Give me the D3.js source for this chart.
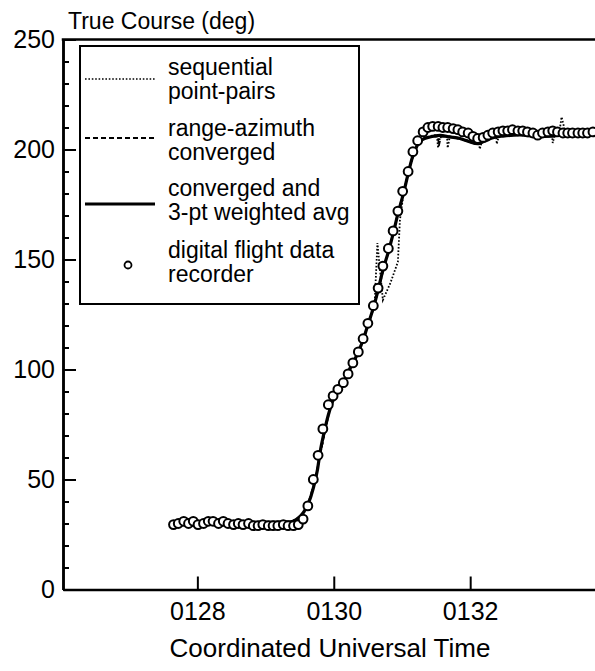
<!DOCTYPE html>
<html lang="en">
<head>
<meta charset="UTF-8">
<title>True Course vs UTC</title>
<script src="https://d3js.org/d3.v7.min.js"></script>
<style>
  body { margin: 0; background: #fff; }
  text { font-family: "Liberation Sans", Arial, Helvetica, sans-serif; fill: #000; }
</style>
</head>
<body>
<script>
// time in minutes after 01:00 UTC, heading in degrees
const xTicks = [128, 130, 132];
const xTickLabels = ["0128", "0130", "0132"];
const yMajor = [0, 50, 100, 150, 200, 250];
const yMinor = [10, 20, 30, 40, 60, 70, 80, 90, 110, 120, 130, 140, 160, 170, 180, 190, 210, 220, 230, 240];

const legendLabels = [
  ["sequential", "point-pairs"],
  ["range-azimuth", "converged"],
  ["converged and", "3-pt weighted avg"],
  ["digital flight data", "recorder"]
];

// digital flight data recorder samples
const dfdrTime = [127.65, 127.72, 127.80, 127.87, 127.94, 128.01, 128.09, 128.16, 128.23, 128.31,
  128.38, 128.45, 128.53, 128.60, 128.67, 128.75, 128.82, 128.89, 128.96, 129.04,
  129.11, 129.18, 129.26, 129.33, 129.41, 129.48, 129.55, 129.62, 129.70, 129.77,
  129.84, 129.92, 129.99, 130.06, 130.14, 130.21, 130.28, 130.36, 130.43, 130.50,
  130.58, 130.65, 130.72, 130.80, 130.87, 130.94, 131.01, 131.09, 131.16, 131.23,
  131.31, 131.38, 131.45, 131.53, 131.60, 131.67, 131.75, 131.82, 131.89, 131.97,
  132.04, 132.11, 132.19, 132.26, 132.33, 132.41, 132.48, 132.55, 132.62, 132.70,
  132.77, 132.84, 132.92, 132.99, 133.06, 133.14, 133.21, 133.28, 133.36, 133.43,
  133.50, 133.58, 133.65, 133.72, 133.80];
const dfdrDeg = [29.5, 30, 31, 30, 31, 29.5, 30, 31, 31, 30,
  31, 30, 29.5, 30, 29.5, 30, 29, 29, 29.5, 29,
  29, 29, 29.5, 29, 29, 29.5, 32, 38, 50, 61,
  73, 84, 88, 91, 94, 98, 103, 108, 114, 121,
  129, 137, 147, 155, 163, 172, 181, 190, 199, 204,
  208, 210, 210.5, 210.5, 210, 210, 209.5, 209, 208, 207.5,
  206, 205, 205.5, 206.5, 207.5, 208, 208.5, 208.5, 209, 208.5,
  208.5, 208, 207.5, 206.5, 207.5, 208, 208.5, 208, 207.5, 207.5,
  207.5, 207.5, 207.5, 207.5, 208];

// converged and 3-pt weighted avg
const smoothed = [[128.51, 30.7], [128.92, 30.5], [129.36, 30.7], [129.46, 32.0], [129.55, 34.8],
  [129.63, 39.3], [129.70, 46.1], [129.76, 54.3], [129.80, 62.5], [129.86, 71.6], [129.92, 79.3],
  [129.98, 85.2], [130.05, 89.8], [130.14, 93.9], [130.24, 100.7], [130.34, 106.6], [130.43, 113.4],
  [130.50, 120.2], [130.58, 128.0], [130.65, 136.1], [130.72, 145.2], [130.80, 153.4], [130.87, 161.6],
  [130.94, 170.7], [131.02, 179.8], [131.09, 188.9], [131.15, 196.1], [131.22, 201.6], [131.29, 204.3],
  [131.41, 205.7], [131.56, 206.4], [131.70, 205.7], [131.85, 205.0], [132.00, 203.4], [132.11, 202.7],
  [132.22, 203.9], [132.32, 205.2], [132.48, 206.1], [132.73, 206.6], [132.98, 205.9], [133.21, 206.1],
  [133.42, 207.3], [133.61, 207.5], [133.83, 208.0]];

// range-azimuth converged
const rangeAz = [[128.51, 30.2], [128.92, 30.7], [129.36, 30.2], [129.48, 32.0], [129.57, 35.2],
  [129.64, 40.7], [129.71, 48.0], [129.77, 56.6], [129.83, 65.7], [129.89, 75.2], [129.95, 82.9],
  [130.02, 88.0], [130.11, 92.0], [130.21, 97.5], [130.33, 106.1], [130.42, 112.0], [130.50, 119.8],
  [130.58, 127.5], [130.65, 135.7], [130.72, 144.3], [130.80, 153.4], [130.87, 162.1], [130.94, 171.1],
  [131.02, 180.2], [131.09, 189.3], [131.15, 196.6], [131.22, 202.0], [131.29, 204.8], [131.41, 206.1],
  [131.53, 205.7], [131.54, 201.6], [131.57, 205.7], [131.70, 206.1], [131.85, 204.8], [132.00, 203.4],
  [132.11, 202.0], [132.22, 203.9], [132.32, 205.2], [132.48, 206.6], [132.73, 207.0], [132.98, 205.9],
  [133.21, 206.6], [133.34, 208.4], [133.46, 207.5], [133.61, 208.0], [133.83, 208.4]];

// sequential point-pairs
const pointPairs = [[128.51, 30.2], [128.92, 30.2], [129.36, 30.7], [129.51, 33.0], [129.63, 38.4],
  [129.70, 46.1], [129.77, 56.1], [129.83, 65.7], [129.89, 74.8], [129.95, 82.5], [130.02, 88.0],
  [130.12, 93.9], [130.24, 100.7], [130.36, 107.9], [130.46, 116.6], [130.56, 126.1], [130.60, 130.7],
  [130.64, 157.5], [130.72, 131.6], [130.83, 139.3], [130.94, 148.9], [130.97, 168.0], [131.03, 181.6],
  [131.12, 192.5], [131.22, 201.6], [131.29, 204.3], [131.41, 206.1], [131.51, 206.6], [131.53, 200.7],
  [131.56, 206.1], [131.66, 206.1], [131.67, 200.7], [131.70, 205.7], [131.85, 204.8], [132.00, 203.9],
  [132.13, 203.4], [132.14, 200.2], [132.17, 203.4], [132.29, 205.2], [132.38, 206.1], [132.39, 202.5],
  [132.42, 206.1], [132.58, 206.6], [132.73, 207.0], [132.98, 205.9], [133.20, 206.6], [133.21, 203.0],
  [133.24, 206.6], [133.31, 208.4], [133.34, 214.8], [133.39, 208.4], [133.53, 207.5], [133.83, 208.4]];

const w = 595;
const h = 671;
const plotLeft = 63, plotRight = 595, plotTop = 39.5, plotBottom = 589.5;

const x = d3.scaleLinear().domain([126.03, 133.83]).range([plotLeft, plotRight]);
const y = d3.scaleLinear().domain([0, 250]).range([plotBottom, plotTop]);

const svg = d3.select("body").append("svg")
  .attr("width", w)
  .attr("height", h);

// data lines
const line = d3.line().x(d => x(d[0])).y(d => y(d[1]));
const smoothLine = d3.line().x(d => x(d[0])).y(d => y(d[1])).curve(d3.curveMonotoneX);

svg.append("path")
  .datum(pointPairs)
  .attr("d", line)
  .attr("fill", "none")
  .attr("stroke", "#000")
  .attr("stroke-width", 1.8)
  .attr("stroke-dasharray", "1.6,1.8");

svg.append("path")
  .datum(rangeAz)
  .attr("d", line)
  .attr("fill", "none")
  .attr("stroke", "#000")
  .attr("stroke-width", 1.8)
  .attr("stroke-dasharray", "5,3");

svg.append("path")
  .datum(smoothed)
  .attr("d", smoothLine)
  .attr("fill", "none")
  .attr("stroke", "#000")
  .attr("stroke-width", 3.2);

svg.append("g")
  .selectAll("circle")
  .data(dfdrTime)
  .enter()
  .append("circle")
  .attr("cx", d => x(d))
  .attr("cy", (d, i) => y(dfdrDeg[i]))
  .attr("r", 4.4)
  .attr("fill", "#fff")
  .attr("stroke", "#000")
  .attr("stroke-width", 2);

// axes
const yAxis = d3.axisLeft(y)
  .tickValues(yMajor)
  .tickSizeInner(-13)
  .tickSizeOuter(0)
  .tickPadding(8);

const yMinorAxis = d3.axisLeft(y)
  .tickValues(yMinor)
  .tickSizeInner(-6)
  .tickSizeOuter(0)
  .tickFormat("");

const xAxis = d3.axisBottom(x)
  .tickValues(xTicks)
  .tickFormat((d, i) => xTickLabels[i])
  .tickSizeInner(-13)
  .tickSizeOuter(0)
  .tickPadding(13);

const gy = svg.append("g")
  .attr("transform", "translate(" + plotLeft + ",0)")
  .call(yAxis);
svg.append("g")
  .attr("transform", "translate(" + plotLeft + ",0)")
  .call(yMinorAxis);
const gx = svg.append("g")
  .attr("transform", "translate(0," + plotBottom + ")")
  .call(xAxis);

svg.selectAll(".domain").attr("stroke-width", 2.5);
svg.selectAll(".tick line").attr("stroke-width", 2);
gy.selectAll("text").style("font-size", "25px");
gx.selectAll("text").style("font-size", "25px");

svg.append("line")
  .attr("x1", plotLeft - 1.25).attr("x2", plotRight)
  .attr("y1", plotTop).attr("y2", plotTop)
  .attr("stroke", "#000")
  .attr("stroke-width", 2.5);

svg.append("text")
  .attr("x", 68)
  .attr("y", 29)
  .style("font-size", "23px")
  .text("True Course (deg)");

svg.append("text")
  .attr("x", 330)
  .attr("y", 657)
  .attr("text-anchor", "middle")
  .style("font-size", "26px")
  .text("Coordinated Universal Time");

// legend
const legend = svg.append("g");
legend.append("rect")
  .attr("x", 80).attr("y", 46)
  .attr("width", 279).attr("height", 258)
  .attr("fill", "#fff")
  .attr("stroke", "#000")
  .attr("stroke-width", 2);

const markY = [79, 138, 204, 265];
const textY = [75, 136, 196, 258];

legend.append("line")
  .attr("x1", 85).attr("x2", 155).attr("y1", markY[0]).attr("y2", markY[0])
  .attr("stroke", "#000").attr("stroke-width", 1.6).attr("stroke-dasharray", "1.6,1.8");
legend.append("line")
  .attr("x1", 85).attr("x2", 155).attr("y1", markY[1]).attr("y2", markY[1])
  .attr("stroke", "#000").attr("stroke-width", 1.8).attr("stroke-dasharray", "5,3");
legend.append("line")
  .attr("x1", 85).attr("x2", 155).attr("y1", markY[2]).attr("y2", markY[2])
  .attr("stroke", "#000").attr("stroke-width", 3);
legend.append("circle")
  .attr("cx", 128).attr("cy", markY[3]).attr("r", 3.5)
  .attr("fill", "#fff").attr("stroke", "#000").attr("stroke-width", 1.8);

legendLabels.forEach((lines, i) => {
  lines.forEach((s, j) => {
    legend.append("text")
      .attr("x", 168)
      .attr("y", textY[i] + j * 24)
      .style("font-size", "23px")
      .text(s);
  });
});
</script>
</body>
</html>
